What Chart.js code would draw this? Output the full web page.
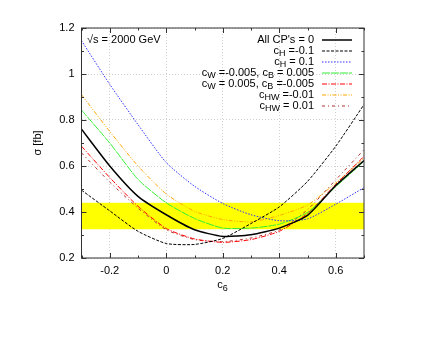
<!DOCTYPE html>
<html>
<head>
<meta charset="utf-8">
<script src="https://cdn.jsdelivr.net/npm/chart.js@4.4.0/dist/chart.umd.min.js"></script>
<style>
  html, body { margin: 0; padding: 0; background: #fff; }
  #wrap { width: 436px; height: 337px; }
</style>
</head>
<body>
<div id="wrap"><canvas id="myChart" width="436" height="337"></canvas></div>
<script>
'use strict'

// c6 values
const c6 = [-0.3, -0.2, -0.1, 0, 0.1, 0.2, 0.3, 0.4, 0.5, 0.6, 0.7];

// cross sections in fb
const allZero  = [0.760, 0.600, 0.468, 0.388, 0.323, 0.294, 0.301, 0.330, 0.385, 0.515, 0.624];
const cHminus  = [0.495, 0.405, 0.316, 0.263, 0.259, 0.285, 0.350, 0.422, 0.533, 0.686, 0.867];
const cHplus   = [1.145, 0.955, 0.780, 0.615, 0.512, 0.437, 0.388, 0.362, 0.370, 0.434, 0.506];
const cWBgreen = [0.843, 0.700, 0.542, 0.440, 0.372, 0.330, 0.330, 0.347, 0.398, 0.510, 0.620];
const cWBred   = [0.686, 0.550, 0.425, 0.328, 0.283, 0.268, 0.280, 0.316, 0.394, 0.520, 0.642];
const cHWminus = [0.910, 0.750, 0.600, 0.478, 0.403, 0.367, 0.357, 0.385, 0.430, 0.526, 0.635];
const cHWplus  = [0.657, 0.530, 0.417, 0.323, 0.280, 0.271, 0.287, 0.322, 0.410, 0.540, 0.671];

const labels = [
  "All CP's = 0",
  'c_{H} =-0.1',
  'c_{H} = 0.1',
  'c_{W} =-0.005, c_{B} = 0.005',
  'c_{W} = 0.005, c_{B} =-0.005',
  'c_{HW} =-0.01',
  'c_{HW} = 0.01'
];

const xTicks = [-0.2, 0, 0.2, 0.4, 0.6];
const yTicks = [0.2, 0.4, 0.6, 0.8, 1, 1.2];
const xMinor = [-0.3, -0.2, -0.1, 0, 0.1, 0.2, 0.3, 0.4, 0.5, 0.6, 0.7];
const yMinor = [0.2, 0.3, 0.4, 0.5, 0.6, 0.7, 0.8, 0.9, 1, 1.1, 1.2];

// experimental band
const bandLow = 0.325;
const bandHigh = 0.44;

const FONT = '"Liberation Sans", Arial, sans-serif';

function pts(ys) {
  return c6.map((x, i) => ({ x: x, y: ys[i] }));
}

const styles = [
  { color: '#000000', width: 1.5, dash: [] },
  { color: '#000000', width: 1, dash: [3, 1.5] },
  { color: '#3030ff', width: 1, dash: [1.5, 1.5] },
  { color: '#33ee33', width: 1, dash: [8, 1] },
  { color: '#ff0000', width: 1, dash: [5, 1.5, 1, 1.5] },
  { color: '#ffa500', width: 1, dash: [4, 1.5, 1, 1.5, 1, 1.5] },
  { color: '#b03030', width: 1, dash: [3, 3, 1, 3] }
];

const series = [allZero, cHminus, cHplus, cWBgreen, cWBred, cHWminus, cHWplus];

const datasets = series.map((s, i) => ({
  label: labels[i],
  data: pts(s),
  borderColor: styles[i].color,
  borderWidth: styles[i].width,
  borderDash: styles[i].dash,
  pointRadius: 0,
  fill: false,
  tension: 0.2
}));

// draw text with _{sub} parts
function richText(ctx, str, x, y, align) {
  const parts = [];
  const re = /_\{([^}]*)\}/g;
  let last = 0, m;
  while ((m = re.exec(str)) !== null) {
    if (m.index > last) parts.push({ t: str.slice(last, m.index), sub: false });
    parts.push({ t: m[1], sub: true });
    last = re.lastIndex;
  }
  if (last < str.length) parts.push({ t: str.slice(last), sub: false });
  let w = 0;
  parts.forEach(p => {
    ctx.font = (p.sub ? '9px ' : '11px ') + FONT;
    p.w = ctx.measureText(p.t).width;
    w += p.w;
  });
  let cx = align === 'right' ? x - w : (align === 'center' ? x - w / 2 : x);
  ctx.textAlign = 'left';
  ctx.textBaseline = 'middle';
  parts.forEach(p => {
    ctx.font = (p.sub ? '9px ' : '11px ') + FONT;
    ctx.fillText(p.t, cx, p.sub ? y + 3.5 : y);
    cx += p.w;
  });
}

const bandPlugin = {
  id: 'band',
  beforeDatasetsDraw(chart) {
    const ctx = chart.ctx, a = chart.chartArea, ys = chart.scales.y;
    const top = ys.getPixelForValue(bandHigh), bot = ys.getPixelForValue(bandLow);
    ctx.save();
    ctx.fillStyle = '#ffff00';
    ctx.fillRect(a.left, top, a.right - a.left, bot - top);
    ctx.restore();
  }
};

const framePlugin = {
  id: 'frame',
  afterDatasetsDraw(chart) {
    const ctx = chart.ctx, a = chart.chartArea;
    const xs = chart.scales.x, ys = chart.scales.y;
    ctx.save();
    ctx.strokeStyle = '#333';
    ctx.lineWidth = 1;
    ctx.setLineDash([]);
    ctx.strokeRect(a.left, a.top, a.right - a.left, a.bottom - a.top);
    ctx.beginPath();
    xMinor.forEach(v => {
      const px = Math.round(xs.getPixelForValue(v)) + 0.5;
      const len = xTicks.some(t => Math.abs(t - v) < 1e-9) ? 5 : 2.5;
      ctx.moveTo(px, a.bottom); ctx.lineTo(px, a.bottom - len);
      ctx.moveTo(px, a.top); ctx.lineTo(px, a.top + len);
    });
    yMinor.forEach(v => {
      const py = Math.round(ys.getPixelForValue(v)) + 0.5;
      const len = yTicks.some(t => Math.abs(t - v) < 1e-9) ? 5 : 2.5;
      ctx.moveTo(a.left, py); ctx.lineTo(a.left + len, py);
      ctx.moveTo(a.right, py); ctx.lineTo(a.right - len, py);
    });
    ctx.stroke();

    // legend
    ctx.fillStyle = '#000';
    labels.forEach((lab, i) => {
      const y = 39.5 + i * 11;
      richText(ctx, lab, 314, y, 'right');
      ctx.beginPath();
      ctx.strokeStyle = styles[i].color;
      ctx.lineWidth = styles[i].width;
      ctx.setLineDash(styles[i].dash);
      ctx.moveTo(322, y + 0.5); ctx.lineTo(352, y + 0.5);
      ctx.stroke();
    });
    ctx.setLineDash([]);

    // energy label
    ctx.fillStyle = '#000';
    ctx.font = '11px ' + FONT;
    ctx.textAlign = 'left';
    ctx.textBaseline = 'middle';
    ctx.fillText('\u221As = 2000 GeV', 87, 39.5);

    // axis titles
    richText(ctx, 'c_{6}', 222.5, 285, 'center');
    ctx.save();
    ctx.translate(38, 143);
    ctx.rotate(-Math.PI / 2);
    ctx.font = '11px ' + FONT;
    ctx.textAlign = 'center';
    ctx.fillText('\u03C3 [fb]', 0, 0);
    ctx.restore();
    ctx.restore();
  }
};

function fmt(v) {
  return String(Number(v.toFixed(1)));
}

let ctx = document.getElementById('myChart').getContext('2d');

// eslint-disable-next-line no-unused-vars
let chart = new Chart(ctx, {
  type: 'line',
  data: { datasets: datasets },
  options: {
    responsive: false,
    animation: false,
    events: [],
    layout: { padding: { top: 28, right: 72, left: 0, bottom: 39 } },
    plugins: { legend: { display: false }, tooltip: { enabled: false } },
    scales: {
      x: {
        type: 'linear',
        min: -0.3,
        max: 0.7,
        afterBuildTicks: s => { s.ticks = xTicks.map(v => ({ value: v })); },
        afterFit: s => { s.height = 40; },
        grid: { color: '#d0d0d0', drawTicks: false, lineWidth: 1 },
        border: { display: false, dash: [1, 2] },
        ticks: {
          padding: 6,
          color: '#000',
          font: { family: FONT, size: 11 },
          callback: v => fmt(v)
        }
      },
      y: {
        type: 'linear',
        min: 0.2,
        max: 1.2,
        afterBuildTicks: s => { s.ticks = yTicks.map(v => ({ value: v })); },
        afterFit: s => { s.width = 81.5; },
        grid: { color: '#d0d0d0', drawTicks: false, lineWidth: 1 },
        border: { display: false, dash: [1, 2] },
        ticks: {
          padding: 7,
          color: '#000',
          font: { family: FONT, size: 11 },
          callback: v => fmt(v)
        }
      }
    }
  },
  plugins: [bandPlugin, framePlugin]
});
</script>
</body>
</html>
